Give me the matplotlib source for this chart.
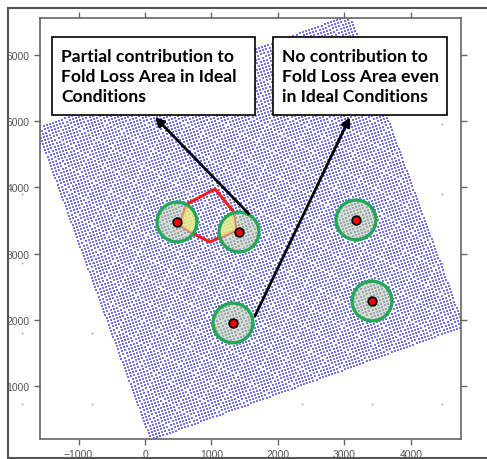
import numpy as np
import matplotlib
matplotlib.use("Agg")
import matplotlib.pyplot as plt
from matplotlib.patches import Circle, Polygon, Rectangle
from matplotlib.lines import Line2D

W, H = 487, 460

# survey bin grid: a rotated square of regularly spaced bins
grid_origin = (90, 190)      # bottom corner (m)
grid_size = 5000             # side length (m)
grid_step = 50               # bin spacing (m)
grid_azimuth = 20            # rotation (deg)

# coarse reference stations
station_x = [-1850, -800, 2360, 3410, 4470]
station_y = [730, 1800, 2860, 3900, 4960]

# wells with their fold-loss radius
well_x = [481, 1414, 1323, 3173, 3414]
well_y = [3477, 3326, 1952, 3508, 2284]
well_radius = 300

# fold loss polygon
poly_x = [526, 632, 1053, 1323, 1368, 977, 737]
poly_y = [3432, 3749, 3976, 3644, 3356, 3175, 3296]

labels = ["Partial contribution to\nFold Loss Area in Ideal\nConditions",
          "No contribution to\nFold Loss Area even\nin Ideal Conditions"]
arrow_tails = [(1564, 3598), (1654, 2057)]
arrow_heads = [(150, 5063), (3083, 5063)]

fig = plt.figure(figsize=(W / 100, H / 100), dpi=100)
ax = fig.add_axes([40 / W, 1 - 440 / H, 421 / W, 421 / H])
ax.set_xlim(-1579, 4752)
ax.set_ylim(199, 6559)

# bin grid points
u = np.arange(0, grid_size + 1, grid_step)
uu, vv = np.meshgrid(u, u)
a = np.deg2rad(grid_azimuth)
gx = grid_origin[0] + uu * np.cos(a) - vv * np.sin(a)
gy = grid_origin[1] + uu * np.sin(a) + vv * np.cos(a)
ax.scatter(gx.ravel(), gy.ravel(), s=3.2, marker="s", c="#7474f0",
           linewidths=0, zorder=2)

sx, sy = np.meshgrid(station_x, station_y)
ax.scatter(sx.ravel(), sy.ravel(), s=1.5, c="#999999", linewidths=0,
           zorder=1, clip_on=False)

poly_xy = np.column_stack([poly_x, poly_y])
ax.add_patch(Polygon(poly_xy, closed=True, fill=False, edgecolor="#ff1818",
                     lw=2.2, zorder=3))

for x, y in zip(well_x, well_y):
    disc = Circle((x, y), well_radius, facecolor="#b8c8a4", edgecolor="none",
                  alpha=0.6, zorder=4)
    ax.add_patch(disc)
    inside = Polygon(poly_xy, closed=True, facecolor="#f2f080",
                     edgecolor="none", alpha=0.7, zorder=5)
    ax.add_patch(inside)
    inside.set_clip_path(disc)
    ax.add_patch(Circle((x, y), well_radius, fill=False, edgecolor="#22a857",
                        lw=2.4, zorder=6))
ax.scatter(well_x, well_y, s=38, c="#ff0000", edgecolors="black",
           linewidths=1.3, zorder=7)

for (tx, ty), (hx, hy) in zip(arrow_tails, arrow_heads):
    ax.annotate("", xy=(hx, hy), xytext=(tx, ty), zorder=8,
                arrowprops=dict(arrowstyle="-|>", color="black", lw=2,
                                mutation_scale=13, shrinkA=0, shrinkB=0))

ax.set_xticks([-1000, 0, 1000, 2000, 3000, 4000])
ax.set_yticks([1000, 2000, 3000, 4000, 5000, 6000])
ax.tick_params(direction="out", length=4, width=1, color="#666666",
               labelsize=7.5, labelcolor="#555555",
               top=True, right=True, labeltop=False, labelright=False)
for lab in ax.get_xticklabels() + ax.get_yticklabels():
    lab.set_family("Liberation Sans")
for sp in ax.spines.values():
    sp.set_color("#666666")
    sp.set_linewidth(1.2)

# text boxes in pixel positions
def fx(px):
    return px / W

def fy(py):
    return 1 - py / H

boxes = [(52, 38, 255, 116), (273, 38, 447, 116)]
for (x0, y0, x1, y1), txt in zip(boxes, labels):
    fig.patches.append(Rectangle((fx(x0), fy(y1)), fx(x1) - fx(x0),
                                 fy(y0) - fy(y1), transform=fig.transFigure,
                                 facecolor="white", edgecolor="black",
                                 lw=1.2, zorder=10))
    fig.text(fx(x0 + 9), fy((y0 + y1) / 2), txt, ha="left", va="center",
             fontsize=12.6, fontweight="bold", family="Lato",
             linespacing=1.3, zorder=11)

# outer frame
for xs, ys in [((8, 8), (9, 459)), ((8, 487), (9, 9)), ((8, 487), (459, 459))]:
    fig.add_artist(Line2D([fx(v) for v in xs], [fy(v) for v in ys],
                          transform=fig.transFigure, color="#555555", lw=1.5))

fig.savefig("out.png", dpi=100)
